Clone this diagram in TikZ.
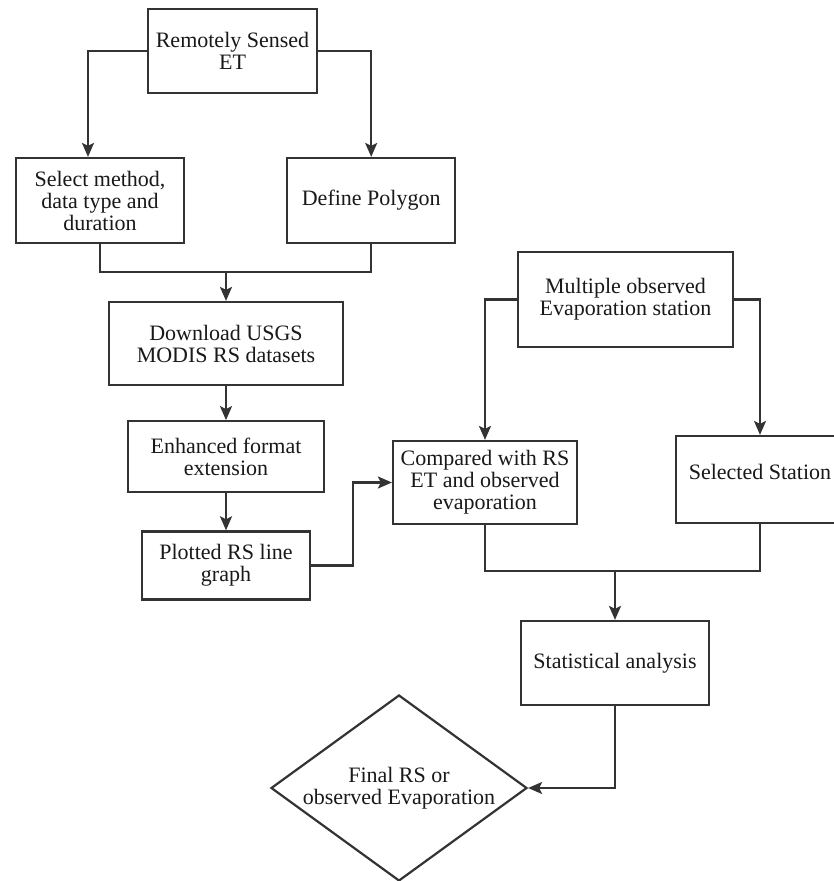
\documentclass[tikz,border=0pt]{standalone}
\usepackage{fontspec}
\setmainfont{Liberation Serif}
\usetikzlibrary{shapes.geometric, positioning}
\usetikzlibrary{arrows.meta}
\definecolor{lncol}{HTML}{333333}

\begin{document}
\begin{tikzpicture}[x=1pt, y=-1pt, line width=2.2pt, color=lncol, >={Stealth[length=14pt,width=12pt,inset=3pt]},
	box/.style={draw, rectangle, align=center, inner sep=2pt, text=black!90, font=\fontsize{22pt}{22pt}\selectfont},
	dec/.style={draw, diamond, aspect=1.376, inner sep=0pt, align=center, text=black!90, font=\fontsize{22pt}{22pt}\selectfont}]
	\useasboundingbox[fill=white] (0,0) rectangle (834,881);

	\node[box, minimum width=169pt, minimum height=84pt]   	(b0)  at (232.5,51)   		{Remotely Sensed\\ET};
	\node[box, minimum width=168pt, minimum height=85pt]   	(b1)  at (100,200.5)  		{Select method,\\data type and\\duration};
	\node[box, minimum width=168pt, minimum height=85pt]   	(b2)  [right=101pt of b1]  	{Define Polygon};
	\node[box, minimum width=234pt, minimum height=83pt]   	(b3)  at (226,343.5)  		{Download USGS\\MODIS RS datasets};
	\node[box, minimum width=196pt, minimum height=71pt]   	(b4)  [below=34pt of b3]  	{Enhanced format\\extension};
	\node[box, minimum width=168pt, minimum height=68pt]   	(b5)  [below=37pt of b4]  	{Plotted RS line\\graph};
	\node[box, minimum width=215pt, minimum height=95pt]   	(b6)  at (625.5,299.5)  	{Multiple observed\\Evaporation station};
	\node[box, minimum width=184pt, minimum height=83pt]   	(b7)  at (485,482.5)  		{Compared with RS\\ET and observed\\evaporation};
	\node[box, minimum width=168pt, minimum height=87pt, text depth=16pt]   (b8)  at (760,479.5)  {Selected Station};
	\node[box, minimum width=188pt, minimum height=84pt]   	(b9)  at (615,663)  		{Statistical analysis};
	\node[dec, minimum width=256pt, minimum height=186pt]  	(b10) at (399,788)  		{Final RS or\\observed Evaporation};

	% joins of the two branches
	\coordinate (m1) at ([yshift=29pt]b3.north);
	\coordinate (m2) at ([yshift=49pt]b9.north);

	\draw[->] (b0.west) -| ([xshift=-12pt]b1.north);
	\draw[->] (b0.east) -| (b2.north);
	\draw     (b1.south) |- (m1) -| (b2.south);
	\path[->] (m1) edge (b3.north)
			(b3) edge (b4)
			(b4) edge (b5);
	\draw[->] (b5.east) -- ++(42pt,0) |- (b7.west);
	\draw[->] (b6.west) -| (b7.north);
	\draw[->] (b6.east) -| (b8.north);
	\draw     (b7.south) |- (m2) -| (b8.south);
	\draw[->] (m2) -- (b9.north);
	\draw[->] (b9.south) |- (b10.east);
\end{tikzpicture}
\end{document}
